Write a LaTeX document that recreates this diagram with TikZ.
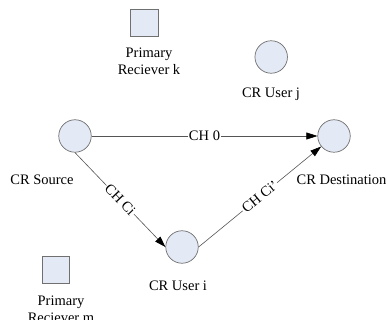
\documentclass[tikz,border=0pt]{standalone}
\usepackage{fontspec}
\setmainfont{Liberation Serif}
\usetikzlibrary{arrows.meta}
\definecolor{nodefill}{HTML}{E4EAF5}
\definecolor{nodeline}{HTML}{707070}
\definecolor{wire}{HTML}{555555}
\tikzset{
  peer/.style={circle, draw=nodeline, fill=nodefill, line width=0.7pt,
    minimum size=32.5pt, inner sep=0pt},
  primary/.style={rectangle, draw=nodeline, fill=nodefill, line width=0.7pt,
    minimum size=27.5pt, inner sep=0pt},
  caption/.style={font=\fontsize{14.5}{17.7}\selectfont, inner sep=0pt, align=center},
  link/.style={draw=wire, line width=0.6pt,
    -{Triangle[length=11pt,width=7pt,fill=black,color=black]}},
  chan/.style={font=\fontsize{14.5}{17.7}\selectfont, fill=white, inner sep=1pt}
}
\begin{document}
\begin{tikzpicture}[x=1pt,y=-1pt]
\useasboundingbox (0,0) rectangle (388,320);

% primary receivers (base anchor sits on the last line)
\node[primary] (pk) at (144.5,23) {};
\node[caption, anchor=base] (pkl) at (149,75) {Primary\\Reciever k};
\node[primary] (pm) at (56,270) {};
\node[caption, anchor=base] (pml) at (61,322.7) {Primary\\Reciever m};

% cognitive radio users
\node[peer] (uj) at (271.2,57) {};
\node[caption, anchor=base] (ujl) at (271,97.3) {CR User j};
\node[peer] (src) at (75,136) {};
\node[caption, anchor=base] (srcl) at (42,184.3) {CR Source};
\node[peer] (dst) at (334,136) {};
\node[caption, anchor=base] (dstl) at (341.5,184.8) {CR Destination};
\node[peer] (ui) at (182,247) {};
\node[caption, anchor=base] (uil) at (178,290.7) {CR User i};

% channels
\draw[link] (src.east) -- node[chan] {CH 0} (dst.west);
\draw[link] (src.south) -- node[chan, sloped] {CH Ci} (ui.west);
\draw[link] (ui.east) -- node[chan, sloped] {CH Ci'} (dst);
\end{tikzpicture}
\end{document}
